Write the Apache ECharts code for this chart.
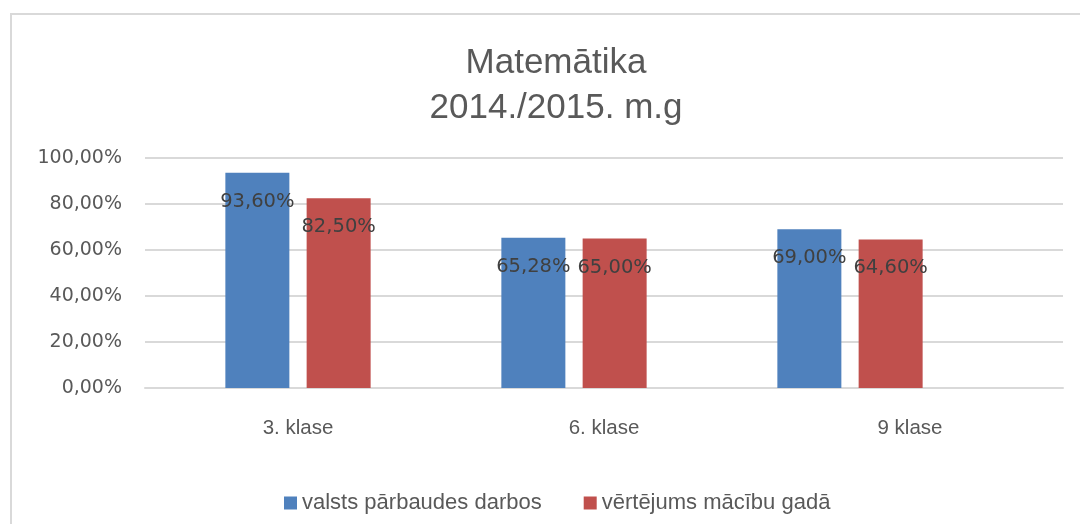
<!DOCTYPE html>
<html>
<head>
<meta charset="utf-8">
<script src="https://cdn.jsdelivr.net/npm/echarts@6/dist/echarts.min.js"></script>
<style>
  html, body { margin: 0; padding: 0; background: #fff; }
  #main { width: 1080px; height: 524px; }
</style>
</head>
<body>
<div id="main"></div>
<script>
// dati
var categories = ['3. klase', '6. klase', '9 klase']
var valsts = [93.6, 65.28, 69.0]
var vertejums = [82.5, 65.0, 64.6]
var seriesNames = ['valsts pārbaudes darbos', 'vērtējums mācību gadā']
var yTicks = [0, 20, 40, 60, 80, 100]

function pct (v) {
  return Number(v).toFixed(2).replace('.', ',') + '%'
}

var myChart = echarts.init(document.getElementById('main'))

var labelStyle = {
  show: true,
  position: 'insideTop',
  distance: 19,
  color: '#404040',
  fontFamily: 'DejaVu Sans',
  fontSize: 19.5,
  formatter: function (p) { return pct(p.value) }
}

myChart.setOption({
  animation: false,
  title: {
    text: 'Matemātika\n2014./2015. m.g',
    left: 551,
    top: 36,
    textAlign: 'center',
    textStyle: {
      fontFamily: 'Liberation Sans',
      fontSize: 35,
      fontWeight: 'normal',
      color: '#595959',
      lineHeight: 45
    }
  },
  legend: {
    left: 279,
    top: 487,
    itemWidth: 13,
    itemHeight: 13,
    itemGap: 42,
    icon: 'rect',
    data: seriesNames,
    textStyle: {
      fontFamily: 'Liberation Sans',
      fontSize: 22,
      color: '#595959'
    }
  },
  graphic: [{
    type: 'polyline',
    shape: { points: [[11, 524], [11, 14], [1080, 14]] },
    style: { stroke: '#d9d9d9', lineWidth: 2, fill: null },
    silent: true
  }],
  grid: [
    { left: 145, right: 17, top: 158, bottom: 136 },
    { left: 160, right: 92, top: 158, bottom: 136 }
  ],
  xAxis: [
    {
      type: 'category',
      gridIndex: 0,
      data: categories,
      axisLine: { lineStyle: { color: '#d9d9d9', width: 2 } },
      axisTick: { show: false },
      axisLabel: {
        margin: 30,
        fontFamily: 'Liberation Sans',
        fontSize: 20.5,
        color: '#595959'
      }
    },
    {
      type: 'category',
      gridIndex: 1,
      data: categories,
      show: false
    }
  ],
  yAxis: [
    {
      type: 'value',
      gridIndex: 0,
      min: yTicks[0],
      max: yTicks[yTicks.length - 1],
      interval: 20,
      axisLine: { show: false },
      axisTick: { show: false },
      splitLine: { lineStyle: { color: '#d9d9d9', width: 2 } },
      axisLabel: {
        margin: 23,
        fontFamily: 'DejaVu Sans',
        fontSize: 19,
        color: '#595959',
        formatter: function (v) { return pct(v) }
      }
    },
    {
      type: 'value',
      gridIndex: 1,
      min: 0,
      max: 100,
      show: false
    }
  ],
  series: [
    {
      name: seriesNames[0],
      type: 'bar',
      xAxisIndex: 1,
      yAxisIndex: 1,
      data: valsts,
      barWidth: 64,
      barGap: '27%',
      itemStyle: { color: '#4f81bd' },
      label: labelStyle
    },
    {
      name: seriesNames[1],
      type: 'bar',
      xAxisIndex: 1,
      yAxisIndex: 1,
      data: vertejums,
      barWidth: 64,
      barGap: '27%',
      itemStyle: { color: '#c0504d' },
      label: labelStyle
    }
  ]
})
</script>
</body>
</html>
